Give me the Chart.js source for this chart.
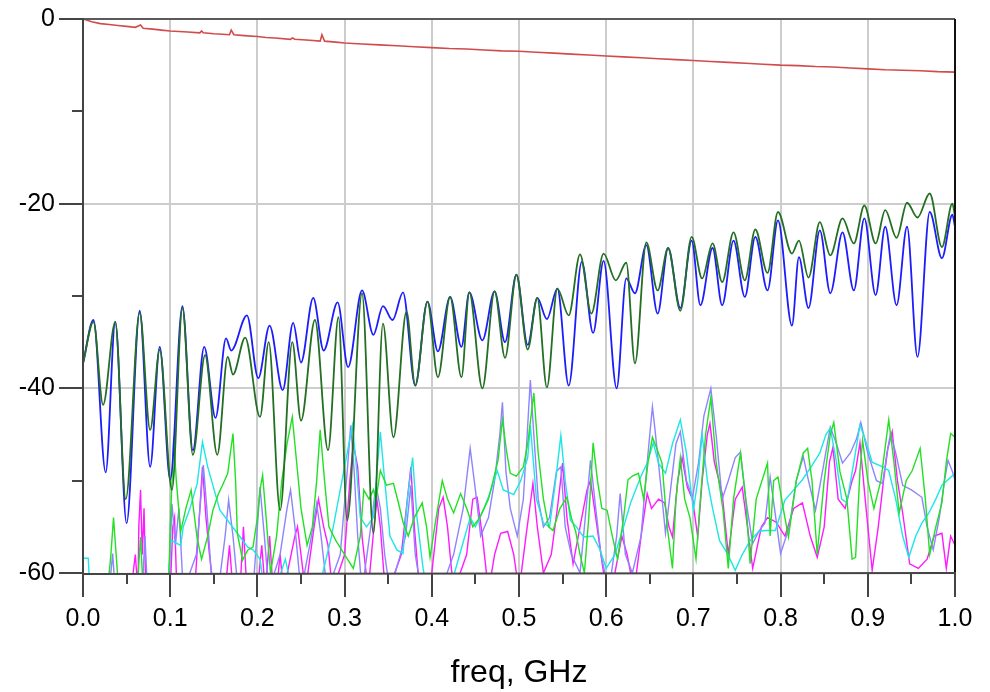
<!DOCTYPE html>
<html><head><meta charset="utf-8">
<script src="https://cdn.jsdelivr.net/npm/chart.js@4"></script>
<style>html,body{margin:0;padding:0;background:#fff}</style>
</head><body>
<canvas id="c" width="990" height="692"></canvas>
<script>
// ---- tick marks ----
const xTickMarks = [0,0.05,0.1,0.15,0.2,0.25,0.3,0.35,0.4,0.45,0.5,0.55,0.6,0.65,0.7,0.75,0.8,0.85,0.9,0.95,1.0];
const yTickMarks = [0,-10,-20,-30,-40,-50,-60];
const xAxisLabel = 'freq, GHz';

// ---- red (top trace) ----
const redX = [0,0.01,0.02,0.03,0.04,0.05,0.06,0.066,0.069,0.08,0.09,0.10,0.11,0.12,0.134,0.136,0.138,0.15,0.16,0.168,0.170,0.173,0.185,0.20,0.21,0.22,0.238,0.24,0.243,0.26,0.272,0.274,0.277,0.29,0.30,0.32,0.34,0.36,0.38,0.40,0.42,0.44,0.46,0.48,0.50,0.52,0.54,0.56,0.58,0.60,0.62,0.64,0.66,0.68,0.70,0.72,0.74,0.76,0.78,0.80,0.82,0.84,0.86,0.88,0.90,0.92,0.94,0.96,0.98,1.0];
const redY = [0,-0.3,-0.5,-0.6,-0.7,-0.8,-0.9,-0.65,-1.0,-1.1,-1.2,-1.3,-1.35,-1.4,-1.5,-1.3,-1.5,-1.6,-1.65,-1.7,-1.2,-1.7,-1.8,-1.9,-2.0,-2.05,-2.2,-2.05,-2.2,-2.3,-2.4,-1.7,-2.4,-2.5,-2.6,-2.7,-2.8,-2.9,-3.0,-3.1,-3.2,-3.25,-3.35,-3.45,-3.5,-3.6,-3.7,-3.8,-3.9,-4.0,-4.1,-4.2,-4.3,-4.4,-4.5,-4.6,-4.7,-4.8,-4.9,-5.0,-5.05,-5.15,-5.2,-5.3,-5.4,-5.5,-5.55,-5.6,-5.7,-5.75];

// ---- blue ----
const blueX = [0.000,0.012,0.026,0.037,0.050,0.065,0.077,0.088,0.100,0.114,0.126,0.139,0.152,0.164,0.170,0.188,0.201,0.214,0.229,0.241,0.250,0.264,0.276,0.292,0.304,0.320,0.333,0.344,0.355,0.367,0.381,0.395,0.407,0.421,0.434,0.443,0.458,0.472,0.484,0.497,0.510,0.521,0.532,0.544,0.557,0.572,0.585,0.597,0.612,0.623,0.633,0.646,0.659,0.671,0.685,0.698,0.708,0.722,0.733,0.746,0.759,0.771,0.785,0.797,0.813,0.821,0.832,0.845,0.857,0.871,0.884,0.896,0.909,0.920,0.933,0.945,0.957,0.971,0.985,0.997,1.000];
const blueY = [-37.3,-32.6,-49.1,-32.8,-54.6,-31.6,-48.5,-35.5,-49.9,-31.1,-46.7,-35.5,-43.2,-34.6,-35.9,-32.1,-38.9,-33.2,-40.2,-32.9,-37.2,-30.2,-35.9,-30.7,-37.7,-29.4,-34.2,-31.1,-32.6,-29.6,-39.7,-30.6,-36.0,-30.1,-35.5,-29.6,-34.8,-29.5,-35.0,-27.7,-35.3,-30.2,-32.5,-29.2,-39.7,-26.3,-34.0,-26.2,-40.0,-28.1,-29.7,-24.5,-31.9,-24.8,-31.3,-24.0,-31.0,-24.8,-31.0,-24.0,-30.1,-23.6,-29.4,-21.8,-33.2,-25.8,-31.3,-22.9,-29.7,-23.1,-29.4,-21.6,-29.9,-22.5,-31.0,-22.5,-36.6,-20.9,-25.9,-21.2,-22.5];

// ---- dark green ----
const greenX = [0.000,0.012,0.023,0.037,0.049,0.065,0.077,0.088,0.102,0.114,0.126,0.140,0.154,0.166,0.172,0.186,0.203,0.213,0.226,0.240,0.250,0.266,0.281,0.293,0.303,0.320,0.333,0.344,0.356,0.371,0.381,0.395,0.407,0.421,0.434,0.443,0.458,0.472,0.484,0.497,0.510,0.521,0.532,0.544,0.557,0.570,0.583,0.597,0.611,0.623,0.633,0.646,0.659,0.671,0.685,0.698,0.710,0.722,0.733,0.746,0.759,0.771,0.785,0.797,0.813,0.821,0.832,0.845,0.857,0.871,0.884,0.896,0.909,0.920,0.933,0.945,0.957,0.971,0.985,0.997,1.000];
const greenY = [-37.3,-32.8,-41.8,-32.8,-52.0,-31.8,-44.5,-35.8,-51.0,-31.3,-47.2,-36.4,-47.2,-36.6,-38.5,-34.5,-43.1,-35.0,-53.2,-35.0,-43.5,-32.6,-46.7,-32.3,-54.3,-29.7,-55.7,-33.0,-45.3,-31.7,-39.7,-30.6,-38.8,-30.1,-38.8,-29.6,-40.0,-29.5,-36.7,-27.7,-35.8,-30.2,-39.9,-29.2,-32.1,-25.5,-31.9,-25.4,-28.3,-26.4,-37.3,-24.2,-29.4,-24.8,-31.6,-23.6,-28.1,-24.3,-28.5,-23.1,-28.3,-22.8,-27.5,-20.9,-25.4,-24.0,-28.0,-22.0,-25.6,-21.6,-24.3,-20.2,-24.3,-20.7,-23.7,-19.9,-21.5,-18.9,-24.7,-20.0,-21.4];

// ---- cyan ----
const cyanX = [0.000,0.006,0.008,0.098,0.100,0.112,0.115,0.123,0.131,0.137,0.143,0.157,0.177,0.189,0.195,0.203,0.208,0.220,0.232,0.240,0.270,0.285,0.295,0.305,0.309,0.313,0.318,0.325,0.333,0.338,0.341,0.345,0.352,0.360,0.367,0.372,0.378,0.383,0.390,0.395,0.420,0.435,0.444,0.450,0.460,0.468,0.475,0.482,0.494,0.502,0.510,0.513,0.520,0.528,0.535,0.542,0.548,0.553,0.559,0.566,0.574,0.585,0.593,0.600,0.610,0.620,0.628,0.640,0.647,0.654,0.660,0.668,0.676,0.685,0.692,0.700,0.705,0.710,0.716,0.722,0.730,0.739,0.748,0.756,0.765,0.775,0.782,0.794,0.805,0.815,0.825,0.835,0.845,0.852,0.857,0.864,0.870,0.876,0.884,0.891,0.897,0.905,0.917,0.924,0.932,0.940,0.947,0.955,0.962,0.970,0.978,0.985,0.992,1.000];
const cyanY = [-58.4,-58.4,-62,-62,-56.4,-57.0,-55.0,-52.9,-50.3,-45.8,-48.5,-53.2,-55.7,-57.2,-57.5,-58.5,-62,-62,-58.5,-62,-62,-56,-51,-46,-44.0,-48,-54.0,-55,-54.0,-48,-44.7,-49,-56,-57.5,-57.9,-52,-47.5,-54,-59.5,-62,-62,-57,-54,-55,-53,-51,-48.9,-51,-51.5,-50,-47.5,-44.0,-52,-54.6,-55,-50,-45.1,-50,-54.3,-55,-56.1,-56,-57.5,-59.5,-58,-55.0,-52.4,-49.5,-48.1,-45.9,-48.1,-49.2,-46,-43.4,-47,-53.2,-50,-45.0,-50,-53,-56.5,-57.9,-59.7,-58,-56.5,-55.5,-55.4,-55.4,-52.1,-51,-49.9,-48.5,-47,-45,-44.3,-48,-52,-52.4,-48,-44.0,-45.5,-48,-48.5,-48.9,-52,-56,-58.3,-56,-54.6,-53.5,-52,-50.5,-49.9,-49.2];

// ---- light purple ----
const purpX = [0.000,0.030,0.034,0.037,0.068,0.071,0.074,0.098,0.102,0.106,0.110,0.115,0.130,0.135,0.138,0.142,0.147,0.155,0.163,0.167,0.172,0.178,0.195,0.200,0.203,0.208,0.213,0.226,0.234,0.238,0.243,0.250,0.262,0.268,0.273,0.280,0.295,0.303,0.307,0.311,0.315,0.320,0.330,0.336,0.341,0.346,0.352,0.370,0.376,0.381,0.388,0.410,0.425,0.436,0.444,0.450,0.456,0.465,0.472,0.478,0.481,0.485,0.490,0.498,0.505,0.510,0.513,0.517,0.522,0.528,0.535,0.543,0.548,0.553,0.560,0.570,0.577,0.582,0.588,0.594,0.603,0.612,0.616,0.622,0.630,0.640,0.648,0.653,0.656,0.662,0.668,0.675,0.680,0.685,0.692,0.699,0.706,0.712,0.720,0.726,0.733,0.740,0.748,0.754,0.760,0.768,0.775,0.782,0.788,0.793,0.800,0.810,0.818,0.826,0.832,0.840,0.848,0.857,0.864,0.871,0.880,0.887,0.892,0.900,0.910,0.917,0.922,0.926,0.932,0.940,0.950,0.962,0.968,0.975,0.982,0.988,0.992,0.997,1.000];
const purpY = [-62,-62,-57.9,-62,-62,-56,-62,-62,-52.5,-57,-53,-62,-58,-52,-48.3,-53,-60,-62,-56,-52.1,-56,-62,-62,-55,-50.7,-56,-62,-58,-53,-51.0,-55,-62,-56,-52.5,-56,-62,-58,-49,-44.0,-49,-56,-62,-55,-50.5,-53,-58,-62,-56,-50.5,-58,-62,-62,-58,-53,-46.5,-51,-56,-54,-50,-45,-41.5,-49.0,-53,-56,-52,-44,-39.1,-45,-52,-55.0,-54,-49,-48.5,-55,-58,-60,-53,-47.8,-53,-58,-62,-56,-51.4,-58,-60,-56,-47,-42.0,-44.5,-50,-55.7,-50,-46,-44.7,-50,-51.8,-48,-43,-40.0,-45,-52,-50,-47.5,-46.9,-52,-56.8,-55.5,-54.6,-49.6,-53,-57.9,-55,-50,-47.4,-50,-53.2,-49,-44.2,-46,-48.1,-47,-45.5,-43.7,-47,-50,-50.3,-47,-44.9,-47,-50.5,-51,-51.8,-55,-57.5,-54,-50,-47.8,-49,-49.9];

// ---- magenta ----
const magX = [0.000,0.055,0.060,0.063,0.064,0.066,0.068,0.070,0.072,0.100,0.103,0.105,0.107,0.110,0.128,0.132,0.137,0.141,0.145,0.150,0.163,0.168,0.172,0.180,0.184,0.188,0.200,0.205,0.209,0.214,0.218,0.222,0.226,0.230,0.243,0.246,0.250,0.255,0.265,0.270,0.276,0.281,0.286,0.300,0.306,0.310,0.315,0.320,0.327,0.333,0.337,0.341,0.345,0.350,0.365,0.372,0.376,0.380,0.386,0.400,0.408,0.413,0.418,0.425,0.440,0.447,0.452,0.458,0.465,0.472,0.479,0.487,0.494,0.500,0.508,0.516,0.521,0.528,0.537,0.544,0.550,0.555,0.562,0.570,0.578,0.582,0.588,0.594,0.600,0.610,0.618,0.624,0.632,0.640,0.647,0.652,0.660,0.667,0.672,0.676,0.682,0.687,0.693,0.699,0.705,0.710,0.716,0.719,0.724,0.733,0.740,0.748,0.756,0.762,0.768,0.778,0.785,0.795,0.805,0.815,0.825,0.834,0.842,0.850,0.856,0.860,0.866,0.874,0.882,0.886,0.891,0.897,0.905,0.912,0.918,0.923,0.928,0.934,0.940,0.948,0.958,0.968,0.976,0.985,0.990,0.995,1.000];
const magY = [-62,-62,-58,-62,-55,-51.0,-58,-53,-62,-62,-55,-54,-60,-62,-62,-56,-48.5,-54,-58,-62,-62,-57,-62,-62,-55,-62,-62,-57,-62,-56,-62,-62,-58,-62,-56,-55.0,-58,-62,-55,-52,-55,-57,-62,-58,-50,-46.0,-48.5,-56,-62,-55.7,-52,-55,-60,-62,-58,-52,-48.5,-55,-62,-60,-53,-51.8,-55,-62,-58,-52,-51.8,-56,-62,-58,-55.7,-55.5,-58,-62,-56,-50.3,-55,-60,-58,-53,-48.1,-54,-59,-55,-51,-50,-54,-58,-62,-60,-56,-58,-62,-56,-51.4,-53,-52,-52.4,-55,-56.1,-50,-47.5,-50.7,-52,-56.1,-50,-45,-43.8,-48,-51.4,-58,-52,-50.7,-55,-59.5,-55,-54,-54.5,-56,-53,-52.4,-56,-58.3,-55,-48,-46.4,-52,-53,-50,-48.9,-45.9,-52,-59.7,-55,-50,-46.5,-44.7,-50,-53.5,-59,-59.5,-58.5,-56,-55.7,-59.5,-56,-57];

// ---- bright green ----
const limeX = [0.000,0.028,0.032,0.035,0.038,0.041,0.062,0.066,0.069,0.098,0.100,0.104,0.107,0.112,0.118,0.124,0.131,0.136,0.143,0.149,0.155,0.160,0.166,0.169,0.172,0.175,0.177,0.183,0.189,0.195,0.200,0.203,0.206,0.210,0.215,0.222,0.228,0.234,0.240,0.245,0.250,0.257,0.263,0.268,0.272,0.277,0.282,0.290,0.300,0.310,0.318,0.322,0.328,0.333,0.336,0.341,0.348,0.356,0.362,0.367,0.373,0.380,0.389,0.394,0.398,0.405,0.412,0.418,0.425,0.433,0.440,0.447,0.455,0.465,0.476,0.481,0.486,0.490,0.497,0.505,0.510,0.517,0.522,0.528,0.534,0.539,0.547,0.555,0.560,0.565,0.570,0.575,0.580,0.585,0.590,0.595,0.601,0.607,0.613,0.620,0.625,0.630,0.637,0.643,0.648,0.653,0.658,0.664,0.670,0.676,0.680,0.685,0.690,0.696,0.703,0.708,0.714,0.720,0.726,0.734,0.740,0.746,0.754,0.760,0.765,0.772,0.785,0.788,0.792,0.797,0.803,0.809,0.818,0.826,0.831,0.836,0.842,0.850,0.857,0.861,0.868,0.876,0.882,0.886,0.891,0.894,0.900,0.907,0.915,0.924,0.930,0.936,0.944,0.951,0.960,0.966,0.971,0.978,0.985,0.990,0.995,1.000];
const limeY = [-62,-62,-58,-54.0,-58,-62,-62,-56.1,-62,-62,-55,-45.3,-50,-55.5,-53,-51,-56.3,-58.5,-56,-53.2,-51.5,-50.5,-49.2,-47,-44.9,-50,-55.7,-58.6,-57.5,-57.2,-54,-51,-49.4,-54,-60,-56,-50,-46,-43.1,-48,-53,-57,-55,-50,-44.5,-50,-55,-56.5,-58,-59.5,-56,-51.0,-52,-51,-52.1,-48.9,-50.5,-50.3,-52.5,-54.5,-56,-54,-52.4,-55,-58.3,-54,-50.0,-52,-53.5,-51.4,-53,-55,-54,-52,-47.8,-43.4,-47,-49.2,-49.5,-48.5,-46,-40.5,-47,-52,-55,-55.4,-53,-51.8,-54,-55.5,-58,-60,-54,-45.9,-50,-53,-53.2,-56,-58.5,-54,-49.9,-49.5,-49.2,-52,-48,-45.3,-46.5,-48.1,-55,-59.5,-52,-47.5,-52,-54,-58.5,-52,-45,-41.0,-48,-53.2,-59.5,-52,-47.0,-52,-59,-52,-48.1,-56,-50,-49.6,-53,-56.1,-50,-47,-46.5,-50,-58,-50,-45,-43.7,-49,-52,-58.5,-58.3,-49,-45.6,-50,-53,-50,-43.4,-48,-53.5,-50,-48.9,-46.5,-52,-58,-55,-52.4,-48,-44.9,-45.3];

function pts(xs, ys) { return xs.map((x, i) => ({ x: x, y: ys[i] })); }

const noiseStyle = { showLine: true, pointRadius: 0, borderWidth: 1.4, tension: 0, clip: 0 };

const framePlugin = {
  id: 'frame',
  afterDraw(chart) {
    const { ctx, chartArea: a, scales } = chart;
    const xs = scales.x, ys = scales.y;
    ctx.save();
    ctx.lineCap = 'butt';
    ctx.strokeStyle = '#5a5a5a'; ctx.lineWidth = 2;
    ctx.beginPath(); ctx.moveTo(a.left, a.top); ctx.lineTo(a.right, a.top); ctx.stroke();
    ctx.strokeStyle = '#111';
    ctx.beginPath(); ctx.moveTo(a.right, a.top); ctx.lineTo(a.right, a.bottom); ctx.stroke();
    ctx.strokeStyle = '#444';
    ctx.beginPath(); ctx.moveTo(a.left, a.top - 1); ctx.lineTo(a.left, a.bottom + 1); ctx.lineTo(a.right + 1, a.bottom); ctx.stroke();
    xTickMarks.forEach((v, i) => {
      const px = Math.round(xs.getPixelForValue(v));
      const len = (i % 2 === 0) ? 24 : 11;
      ctx.beginPath(); ctx.moveTo(px, a.bottom); ctx.lineTo(px, a.bottom + len); ctx.stroke();
    });
    yTickMarks.forEach((v, i) => {
      const py = Math.round(ys.getPixelForValue(v));
      const len = (i % 2 === 0) ? 24 : 11;
      ctx.beginPath(); ctx.moveTo(a.left, py); ctx.lineTo(a.left - len, py); ctx.stroke();
    });
    ctx.restore();
  }
};

const tickFont = { family: "'Liberation Sans', Arial, sans-serif", size: 25 };

new Chart(document.getElementById('c'), {
  type: 'scatter',
  data: {
    datasets: [
      { label: 'red', data: pts(redX, redY), borderColor: '#d24b4b', showLine: true, pointRadius: 0, borderWidth: 1.6, order: 0, clip: 0 },
      { label: 'green', data: pts(greenX, greenY), borderColor: '#236f23', showLine: true, pointRadius: 0, borderWidth: 1.8, cubicInterpolationMode: 'monotone', order: 1, clip: 0 },
      { label: 'blue', data: pts(blueX, blueY), borderColor: '#1c1cff', showLine: true, pointRadius: 0, borderWidth: 1.8, cubicInterpolationMode: 'monotone', order: 2, clip: 0 },
      Object.assign({ label: 'lime', data: pts(limeX, limeY), borderColor: '#22e022', order: 3 }, noiseStyle),
      Object.assign({ label: 'cyan', data: pts(cyanX, cyanY), borderColor: '#1ee6e6', order: 4 }, noiseStyle),
      Object.assign({ label: 'purple', data: pts(purpX, purpY), borderColor: '#8e84ff', order: 5 }, noiseStyle),
      Object.assign({ label: 'magenta', data: pts(magX, magY), borderColor: '#ff1aff', order: 6 }, noiseStyle)
    ]
  },
  options: {
    responsive: false,
    animation: false,
    layout: { padding: { top: 19, right: 35, left: 0, bottom: 0 } },
    plugins: { legend: { display: false }, tooltip: { enabled: false } },
    scales: {
      x: {
        type: 'linear', min: 0, max: 1, position: 'bottom',
        afterFit(s) { s.height = 119; },
        ticks: { stepSize: 0.1, padding: 7, color: '#000', font: tickFont, maxRotation: 0,
                 callback: (v) => Number(v).toFixed(1) },
        grid: { drawTicks: true, tickLength: 24, tickColor: 'rgba(0,0,0,0)', lineWidth: 2,
                color: (c) => (c.tick && (Math.abs(c.tick.value) < 1e-6 || Math.abs(c.tick.value - 1) < 1e-6)) ? 'rgba(0,0,0,0)' : '#cdcdcd' },
        border: { display: false },
        title: { display: true, text: xAxisLabel, color: '#000', padding: { top: 0, bottom: 3 },
                 font: { family: "'Liberation Sans', Arial, sans-serif", size: 32, lineHeight: 1 } }
      },
      y: {
        type: 'linear', min: -60, max: 0,
        afterFit(s) { s.width = 83; },
        ticks: { stepSize: 20, padding: 4, color: '#000', font: tickFont,
                 callback: (v) => String(v) },
        grid: { drawTicks: true, tickLength: 24, tickColor: 'rgba(0,0,0,0)', lineWidth: 2,
                color: (c) => (c.tick && (c.tick.value === 0 || c.tick.value === -60)) ? 'rgba(0,0,0,0)' : '#cdcdcd' },
        border: { display: false }
      }
    }
  },
  plugins: [framePlugin]
});
</script>
</body></html>
